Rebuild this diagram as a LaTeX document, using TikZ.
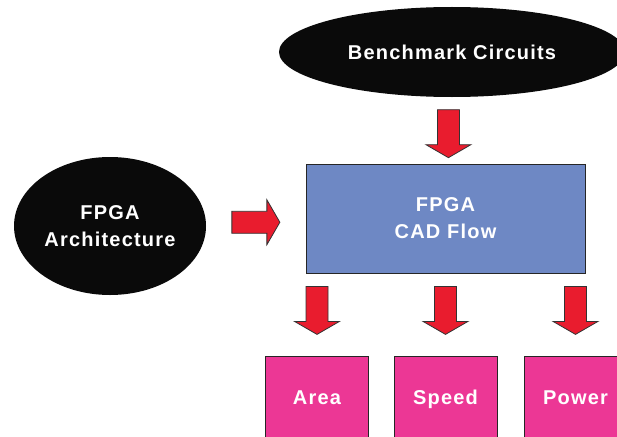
\documentclass[tikz,border=0pt]{standalone}
\usepackage{fontspec}
\setmainfont{Liberation Sans}[LetterSpace=6]
\usetikzlibrary{shapes.geometric}
\usetikzlibrary{calc}
\definecolor{ovalblack}{HTML}{0A0A0A}
\definecolor{cadblue}{HTML}{6E88C4}
\definecolor{metricpink}{HTML}{EC3795}
\definecolor{arrowred}{HTML}{E91C2E}
\newcommand{\labelfont}{\fontsize{20}{27}\selectfont\bfseries}
\tikzset{oval/.style = {ellipse, fill=ovalblack, text=white, align=center,
                        inner sep=0, font=\labelfont}}
\tikzset{flowbox/.style = {rectangle, draw=black!85, line width=1pt, fill=cadblue,
                           text=white, align=center, font=\labelfont,
                           minimum width=279pt, minimum height=109pt}}
\tikzset{metric/.style = {rectangle, draw=black!85, line width=1pt, fill=metricpink,
                          text=white, font=\labelfont, text height=14pt, text depth=4pt,
                          minimum width=103pt, minimum height=86pt}}
\tikzset{fatarrow/.pic = {\draw[fill=arrowred, draw=black!80, line width=0.8pt]
    (-24,-11) -- (11,-11) -- (11,-22.5) -- (24,0) -- (11,22.5) -- (11,11) -- (-24,11) -- cycle;}}

\begin{document}
\begin{tikzpicture}[x=1pt, y=-1pt]
    \clip (0,0) rectangle (617,436);
    \fill[white] (0,0) rectangle (617,436);

    \node[oval, minimum width=346pt, minimum height=90pt] (bench) at (452,52) {Benchmark Circuits};
    \node[oval, minimum width=192pt, minimum height=138pt] (arch) at (110,226) {FPGA\\Architecture};
    \node[flowbox] (cad) at (445.5,218.5) {FPGA\\CAD Flow};

    \node[metric] (area) at (317,399) {Area};
    \node[metric] (speed) at (445.5,399) {Speed};
    \node[metric] (power) at (575.5,399) {Power};

    \pic[rotate=-90] at ($(bench.south)!0.55!(cad.north)$) {fatarrow}; % into the flow
    \pic at ($(arch.east)!0.5!(cad.west)$) {fatarrow};
    \pic[rotate=-90] at ($(cad.south -| area.north)!0.45!(area.north)$) {fatarrow};
    \pic[rotate=-90] at ($(cad.south -| speed.north)!0.45!(speed.north)$) {fatarrow};
    \pic[rotate=-90] at ($(cad.south -| power.north)!0.45!(power.north)$) {fatarrow};
\end{tikzpicture}
\end{document}
